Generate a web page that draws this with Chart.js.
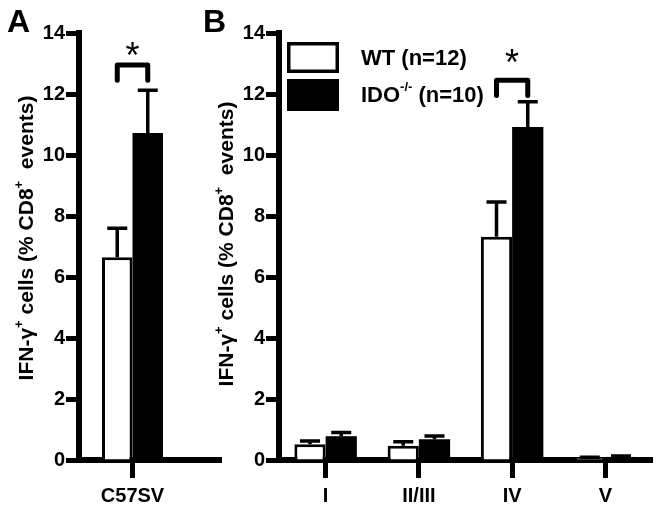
<!DOCTYPE html>
<html>
<head>
<meta charset="utf-8">
<script src="https://cdn.jsdelivr.net/npm/chart.js@4.4.1/dist/chart.umd.min.js"></script>
<style>
  body { margin: 0; background: #fff; width: 659px; height: 508px; position: relative; overflow: hidden; }
  canvas { position: absolute; top: 0; }
  #chartA { left: 0; }
  #chartB { left: 200px; }
</style>
</head>
<body>
<canvas id="chartA" width="230" height="508"></canvas>
<canvas id="chartB" width="459" height="508"></canvas>
<script>
// panel A: whole strain
const strainLabels = ['C57SV'];
const strainWT = [6.65];
const strainWTErr = [0.95];
const strainIDO = [10.72];
const strainIDOErr = [1.4];

// panel B: by tumour stage
const stageLabels = ['I', 'II/III', 'IV', 'V'];
const stageWT = [0.52, 0.47, 7.32, 0.07];
const stageWTErr = [0.1, 0.13, 1.14, 0.02];
const stageIDO = [0.78, 0.68, 10.92, 0.1];
const stageIDOErr = [0.12, 0.11, 0.83, 0.03];

const yTicks = [0, 2, 4, 6, 8, 10, 12, 14];

const FONT = '"Liberation Sans", Arial, sans-serif';

function richWidth(ctx, parts, size) {
  let w = 0;
  parts.forEach(p => {
    ctx.font = 'bold ' + (p[1] ? Math.round(size * 0.6) : size) + 'px ' + FONT;
    w += ctx.measureText(p[0]).width;
  });
  return w;
}

// draws text pieces, the second field marks a superscript
function drawRich(ctx, parts, x, y, size, align) {
  let cx = align === 'center' ? x - richWidth(ctx, parts, size) / 2 : x;
  ctx.textBaseline = 'middle';
  ctx.textAlign = 'left';
  parts.forEach(p => {
    const s = p[1] ? Math.round(size * 0.6) : size;
    ctx.font = 'bold ' + s + 'px ' + FONT;
    ctx.fillText(p[0], cx, p[1] ? y - size * 0.38 : y);
    cx += ctx.measureText(p[0]).width;
  });
}

const yTitle = [['IFN-\u03b3', false], ['+', true], [' cells (% CD8', false], ['+', true], ['  events)', false]];

const errorBars = {
  id: 'errorBars',
  afterDatasetsDraw(chart) {
    const ctx = chart.ctx, y = chart.scales.y;
    chart.data.datasets.forEach((ds, i) => {
      chart.getDatasetMeta(i).data.forEach((bar, j) => {
        const top = y.getPixelForValue(ds.data[j] + ds.errors[j]);
        ctx.save();
        ctx.strokeStyle = '#000';
        ctx.lineWidth = 3.5;
        ctx.beginPath();
        ctx.moveTo(bar.x, bar.y);
        ctx.lineTo(bar.x, top);
        ctx.moveTo(bar.x - 10, top);
        ctx.lineTo(bar.x + 10, top);
        ctx.stroke();
        ctx.restore();
      });
    });
  }
};

const extras = {
  id: 'extras',
  afterDraw(chart, args, o) {
    const ctx = chart.ctx, y = chart.scales.y, a = chart.chartArea;
    ctx.save();
    ctx.fillStyle = '#000';
    ctx.strokeStyle = '#000';
    // x axis runs on past the plot
    if (o.extend) {
      ctx.lineWidth = 6;
      ctx.beginPath();
      ctx.moveTo(a.right - 2, a.bottom);
      ctx.lineTo(a.right + o.extend, a.bottom);
      ctx.stroke();
    }
    // panel letter
    ctx.font = 'bold 32px ' + FONT;
    ctx.textBaseline = 'alphabetic';
    ctx.textAlign = 'left';
    ctx.fillText(o.letter, o.letterX, 32);
    // y title
    ctx.save();
    ctx.translate(o.titleX, o.titleY);
    ctx.rotate(-Math.PI / 2);
    drawRich(ctx, yTitle, 0, 0, 21, 'center');
    ctx.restore();
    // significance bracket
    const s = o.sig;
    const x0 = chart.getDatasetMeta(0).data[s.index].x;
    const x1 = chart.getDatasetMeta(1).data[s.index].x;
    const yTop = y.getPixelForValue(s.high), yLow = y.getPixelForValue(s.low);
    ctx.lineWidth = 5;
    ctx.lineJoin = 'round';
    ctx.lineCap = 'round';
    ctx.beginPath();
    ctx.moveTo(x0, yLow);
    ctx.lineTo(x0, yTop);
    ctx.lineTo(x1, yTop);
    ctx.lineTo(x1, yLow);
    ctx.stroke();
    ctx.font = '36px ' + FONT;
    ctx.textAlign = 'center';
    ctx.textBaseline = 'middle';
    ctx.fillText('*', (x0 + x1) / 2, y.getPixelForValue(s.star) + 8);
    // legend
    if (o.legend) {
      const lx = a.left + 8;
      ctx.fillStyle = '#fff';
      ctx.fillRect(lx, 42, 52, 31);
      ctx.lineWidth = 3.5;
      ctx.lineJoin = 'miter';
      ctx.strokeRect(lx + 1.75, 43.75, 48.5, 27.5);
      ctx.fillStyle = '#000';
      ctx.fillRect(lx, 79, 52, 32);
      drawRich(ctx, [[chart.data.datasets[0].label, false]], lx + 74, 59, 22);
      drawRich(ctx, [['IDO', false], ['-/-', true], [' (n=10)', false]], lx + 74, 96, 22);
    }
    ctx.restore();
  }
};

function scalesFor(xHeight) {
  const tickFont = { family: FONT, size: 20, weight: 'bold' };
  return {
    x: {
      z: 1,
      grid: { offset: false, drawOnChartArea: false, tickLength: 18, tickWidth: 5, tickColor: '#000' },
      border: { color: '#000', width: 6 },
      ticks: { color: '#000', font: tickFont, padding: 6 },
      afterFit: s => { s.height = xHeight; }
    },
    y: {
      min: 0,
      max: 14,
      afterBuildTicks: s => { s.ticks = yTicks.map(v => ({ value: v })); },
      grid: { drawOnChartArea: false, tickLength: 13, tickWidth: 5, tickColor: '#000' },
      border: { color: '#000', width: 6 },
      ticks: { color: '#000', font: tickFont, padding: 1 },
      afterFit: s => { s.width = 79; }
    }
  };
}

function datasets(wt, wtErr, ido, idoErr) {
  return [
    { label: 'WT (n=12)', data: wt, errors: wtErr, backgroundColor: '#fff', borderColor: '#000', borderWidth: 3 },
    { label: 'IDO-/- (n=10)', data: ido, errors: idoErr, backgroundColor: '#000', borderColor: '#000', borderWidth: 0 }
  ];
}

new Chart(document.getElementById('chartA'), {
  type: 'bar',
  data: { labels: strainLabels, datasets: datasets(strainWT, strainWTErr, strainIDO, strainIDOErr) },
  options: {
    responsive: false,
    animation: false,
    layout: { padding: { left: 0, right: 44, top: 33, bottom: 0 } },
    datasets: { bar: { barPercentage: 1, categoryPercentage: 0.57 } },
    plugins: {
      legend: { display: false },
      tooltip: { enabled: false },
      extras: { letter: 'A', letterX: 7, titleX: 27, titleY: 238, extend: 36, sig: { index: 0, low: 12.45, high: 12.95, star: 13.45 } }
    },
    scales: scalesFor(48)
  },
  plugins: [errorBars, extras]
});

new Chart(document.getElementById('chartB'), {
  type: 'bar',
  data: { labels: stageLabels, datasets: datasets(stageWT, stageWTErr, stageIDO, stageIDOErr) },
  options: {
    responsive: false,
    animation: false,
    layout: { padding: { left: 0, right: 7, top: 33, bottom: 0 } },
    datasets: { bar: { barPercentage: 1, categoryPercentage: 0.67 } },
    plugins: {
      legend: { display: false },
      tooltip: { enabled: false },
      extras: { letter: 'B', letterX: 3, titleX: 27, titleY: 244, extend: 0, legend: true, sig: { index: 2, low: 11.95, high: 12.45, star: 13.2 } }
    },
    scales: scalesFor(48)
  },
  plugins: [errorBars, extras]
});
</script>
</body>
</html>
